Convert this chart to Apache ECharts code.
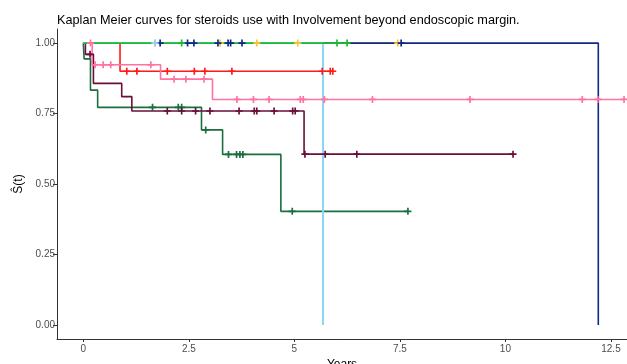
<!DOCTYPE html>
<html>
<head>
<meta charset="utf-8">
<script src="https://cdn.jsdelivr.net/npm/echarts@6/dist/echarts.min.js"></script>
<style>
  html, body { margin: 0; padding: 0; background: #ffffff; }
  #chart { width: 627px; height: 364px; }
</style>
</head>
<body>
<div id="chart"></div>
<script>
// Kaplan-Meier estimates per stratum: event times, survival after each event,
// last follow-up time, and censoring times ("+" marks).
const xTicks = [0, 2.5, 5, 7.5, 10, 12.5];
const yTicks = [0, 0.25, 0.5, 0.75, 1];

const darkGreenTimes = [0, 0.02, 0.17, 0.34, 2.80, 3.30, 4.68];
const darkGreenSurv  = [1, 0.944, 0.833, 0.772, 0.692, 0.605, 0.403];
const darkGreenEnd   = 7.69;
const darkGreenCens  = [1.64, 2.25, 2.33, 2.90, 3.44, 3.63, 3.71, 3.78, 4.95, 7.69];

const maroonTimes = [0, 0.05, 0.24, 0.91, 1.15, 5.23];
const maroonSurv  = [1, 0.96, 0.857, 0.81, 0.759, 0.606];
const maroonEnd   = 10.18;
const maroonCens  = [0.16, 1.99, 2.33, 2.66, 3.00, 3.69, 4.05, 4.11, 4.52, 4.96, 5.02, 5.25, 5.73, 6.48, 10.18];

const redTimes = [0, 0.87];
const redSurv  = [1, 0.9];
const redEnd   = 5.91;
const redCens  = [1.03, 1.27, 1.99, 2.63, 2.88, 3.52, 5.66, 5.85, 5.91];

const pinkTimes = [0, 0.21, 1.83, 3.06];
const pinkSurv  = [1, 0.923, 0.872, 0.80];
const pinkEnd   = 12.81;
const pinkCens  = [0.17, 0.28, 0.47, 0.65, 1.60, 2.15, 2.43, 2.86, 3.64, 4.03, 4.40, 5.14, 5.21, 5.71, 6.85, 9.16, 11.82, 12.19, 12.81];

const goldTimes = [0];
const goldSurv  = [1];
const goldEnd   = 7.45;
const goldCens  = [1.70, 3.24, 4.11, 5.08, 7.45];

const navyTimes = [0, 12.2];
const navySurv  = [1, 0];
const navyEnd   = 12.2;
const navyCens  = [1.82, 2.47, 2.62, 3.19, 3.43, 3.49, 3.76, 7.53];

const skyTimes = [0, 5.68];
const skySurv  = [1, 0];
const skyEnd   = 5.68;
const skyCens  = [1.70];

const greenTimes = [0];
const greenSurv  = [1];
const greenEnd   = 6.25;
const greenCens  = [2.33, 6.01, 6.25];

// Drawing order: later strata are painted on top.
const strata = [
  { color: '#1A6E3F', times: darkGreenTimes, surv: darkGreenSurv, end: darkGreenEnd, cens: darkGreenCens },
  { color: '#6A0F3B', times: maroonTimes, surv: maroonSurv, end: maroonEnd, cens: maroonCens },
  { color: '#FF1A1A', times: redTimes, surv: redSurv, end: redEnd, cens: redCens },
  { color: '#FF73A3', times: pinkTimes, surv: pinkSurv, end: pinkEnd, cens: pinkCens },
  { color: '#F8C630', times: goldTimes, surv: goldSurv, end: goldEnd, cens: goldCens },
  { color: '#0E2A85', times: navyTimes, surv: navySurv, end: navyEnd, cens: navyCens },
  { color: '#8ED4F6', times: skyTimes, surv: skySurv, end: skyEnd, cens: skyCens, width: 2 },
  { color: '#1DBA36', times: greenTimes, surv: greenSurv, end: greenEnd, cens: greenCens }
];

function stepPoints(s) {
  const pts = s.times.map((t, i) => [t, s.surv[i]]);
  const last = s.times[s.times.length - 1];
  if (s.end > last) pts.push([s.end, s.surv[s.surv.length - 1]]);
  return pts;
}

function survAt(s, t) {
  let v = s.surv[0];
  for (let i = 0; i < s.times.length; i++) {
    if (s.times[i] <= t) v = s.surv[i];
  }
  return v;
}

const plusPath = 'path://M-1.2,-5H1.2V-1.2H5V1.2H1.2V5H-1.2V1.2H-5V-1.2H-1.2Z';

const series = [];
strata.forEach(s => {
  series.push({
    type: 'line',
    step: 'end',
    data: stepPoints(s),
    showSymbol: false,
    symbol: 'none',
    lineStyle: { color: s.color, width: s.width || 1.6 },
    silent: true,
    z: 2
  });
});
strata.forEach(s => {
  series.push({
    type: 'scatter',
    data: s.cens.map(t => [t, survAt(s, t)]),
    symbol: plusPath,
    symbolSize: 7,
    itemStyle: { color: s.color, opacity: 1 },
    silent: true,
    z: 3
  });
});

const chart = echarts.init(document.getElementById('chart'), null, { renderer: 'canvas' });
chart.setOption({
  animation: false,
  backgroundColor: '#ffffff',
  textStyle: { fontFamily: 'Liberation Sans, Arial, sans-serif' },
  title: {
    text: 'Kaplan Meier curves for steroids use with Involvement beyond endoscopic margin.',
    left: 52,
    top: 9,
    textStyle: { fontSize: 12.7, fontWeight: 'normal', color: '#000000', fontFamily: 'Liberation Sans, Arial, sans-serif' }
  },
  grid: { left: 57, right: 0, top: 29, bottom: 25, containLabel: false, outerBoundsMode: 'none' },
  xAxis: {
    type: 'value',
    min: -0.623,
    max: 12.88,
    name: 'Years',
    nameLocation: 'middle',
    nameGap: 18,
    nameTextStyle: { fontSize: 12, color: '#000000', verticalAlign: 'top' },
    axisLine: { show: true, onZero: false, lineStyle: { color: '#333333', width: 1 } },
    axisTick: { show: true, customValues: xTicks, length: 3, lineStyle: { color: '#333333' } },
    axisLabel: {
      customValues: xTicks,
      fontSize: 10,
      color: '#4D4D4D',
      margin: 5,
      formatter: v => String(v)
    },
    splitLine: { show: false }
  },
  yAxis: {
    type: 'value',
    min: -0.05,
    max: 1.05,
    name: 'Ŝ(t)',
    nameLocation: 'middle',
    nameGap: 25,
    nameRotate: 90,
    nameTextStyle: { fontSize: 12, color: '#000000' },
    axisLine: { show: true, onZero: false, lineStyle: { color: '#333333', width: 1 } },
    axisTick: { show: true, customValues: yTicks, length: 4, lineStyle: { color: '#333333' } },
    axisLabel: {
      customValues: yTicks,
      fontSize: 10,
      color: '#4D4D4D',
      margin: 2,
      formatter: v => v.toFixed(2)
    },
    splitLine: { show: false }
  },
  series: series
});
</script>
</body>
</html>
